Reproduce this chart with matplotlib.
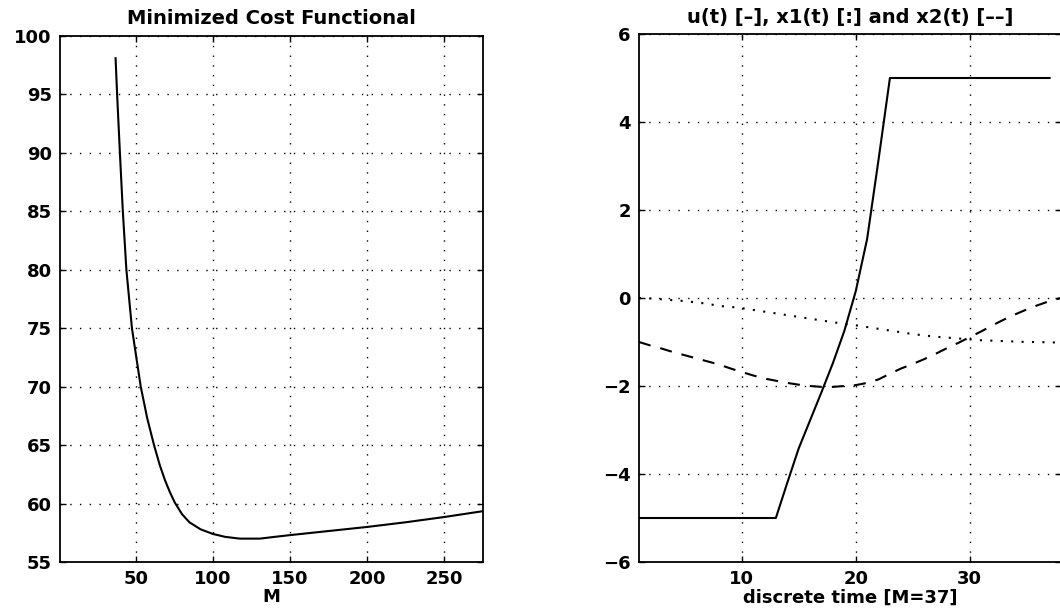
import numpy as np
import matplotlib
matplotlib.use("Agg")
from matplotlib import pyplot as plt

# left panel: minimized cost vs horizon M
M_vals = [37, 38.0, 39.8, 41.7, 44.0, 47.6, 53.3, 57.5, 61.9, 65.6, 69, 72.1, 75.3,
          80, 84.8, 92, 100, 108, 117.5, 130.5, 140, 150, 175, 200, 225, 250, 275]
J_vals = [98.1, 95, 90, 85, 80, 75, 70, 67.3, 65, 63.3, 62.0, 61.0, 60.1,
          59.1, 58.4, 57.8, 57.4, 57.15, 57.0, 57.0, 57.15, 57.3, 57.65, 58.0, 58.4, 58.85, 59.35]

# right panel: control and states for M=37
u_vals = [-5, -5, -5, -5, -5, -5, -5, -5, -5, -5, -5, -5, -5,
          -4.2, -3.42, -2.78, -2.14, -1.48, -0.75, 0.15, 1.34, 3.14,
          5, 5, 5, 5, 5, 5, 5, 5, 5, 5, 5, 5, 5, 5, 5]
x1_vals = [0, -0.01, -0.03, -0.05, -0.07, -0.1, -0.13, -0.18, -0.2, -0.23,
           -0.27, -0.31, -0.35, -0.39, -0.43, -0.47, -0.51, -0.55, -0.59, -0.62,
           -0.66, -0.7, -0.74, -0.78, -0.82, -0.85, -0.88, -0.9, -0.92, -0.94,
           -0.96, -0.97, -0.98, -0.99, -1.0, -1.0, -1.01, -1.01]
x2_vals = [-1.0, -1.08, -1.15, -1.23, -1.3, -1.37, -1.44, -1.51, -1.6, -1.68,
           -1.76, -1.83, -1.88, -1.93, -1.97, -2.0, -2.02, -2.02, -2.0, -1.98,
           -1.93, -1.85, -1.72, -1.6, -1.5, -1.39, -1.27, -1.14, -1.02, -0.89,
           -0.76, -0.62, -0.49, -0.37, -0.26, -0.16, -0.07, 0.0]

t_u = np.arange(1, len(u_vals) + 1)
t_x = np.arange(1, len(x1_vals) + 1)

plt.rcParams["font.family"] = ["DejaVu Sans"]
plt.rcParams["font.weight"] = "bold"
plt.rcParams["font.size"] = 13

fig = plt.figure(figsize=(10.6, 6.1), dpi=100)
ax1 = fig.add_axes([60 / 1060, 48 / 610, 423 / 1060, 526 / 610])
ax2 = fig.add_axes([639 / 1060, 48 / 610, 422 / 1060, 528 / 610])

grid_style = dict(color="k", linestyle=(0, (1, 6)), linewidth=1.0)

ax1.plot(M_vals, J_vals, color="k", linewidth=1.5)
ax1.set_xlim(1, 275)
ax1.set_ylim(55, 100)
ax1.set_xticks([50, 100, 150, 200, 250])
ax1.set_yticks(np.arange(55, 101, 5))
ax1.set_title("Minimized Cost Functional", fontsize=14, fontweight="bold", pad=9)
ax1.set_xlabel("M", fontweight="bold", labelpad=0)

ax2.plot(t_u, u_vals, color="k", linewidth=1.5)
ax2.plot(t_x, x1_vals, color="k", linewidth=1.5, linestyle=(0, (1, 4)))
ax2.plot(t_x, x2_vals, color="k", linewidth=1.5, linestyle=(0, (5.8, 4.8)))
ax2.set_xlim(1, 38)
ax2.set_ylim(-6, 6)
ax2.set_xticks([10, 20, 30])
ax2.set_yticks(np.arange(-6, 7, 2))
ax2.set_title("u(t) [–], x1(t) [:] and x2(t) [––]", fontsize=14, fontweight="bold", pad=8)
ax2.set_xlabel("discrete time [M=37]", fontweight="bold", labelpad=0)

for ax in (ax1, ax2):
    ax.grid(True, **grid_style)
    ax.tick_params(direction="in", length=4, width=1, top=True, right=True, pad=6)
    for s in ax.spines.values():
        s.set_linewidth(1.3)

fig.savefig("out.png", dpi=100)
